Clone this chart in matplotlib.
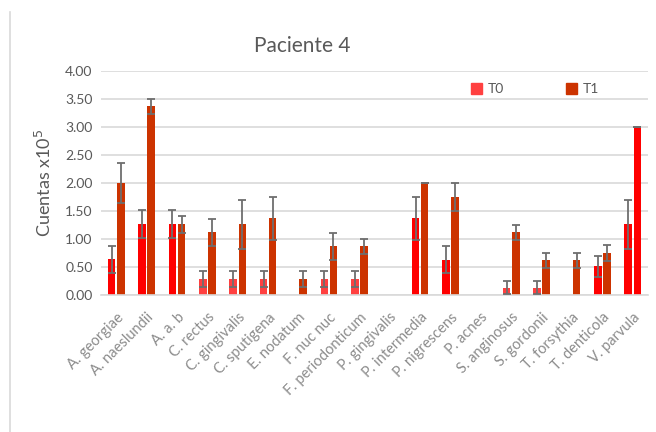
import matplotlib
matplotlib.use("Agg")
import matplotlib.pyplot as plt
import numpy as np

categories = ["A. georgiae", "A. naeslundii", "A. a. b", "C. rectus", "C. gingivalis",
              "C. sputigena", "E. nodatum", "F. nuc nuc", "F. periodonticum", "P. gingivalis",
              "P. intermedia", "P. nigrescens", "P. acnes", "S. anginosus", "S. gordonii",
              "T. forsythia", "T. denticola", "V. parvula"]
t0_values = [0.64, 1.26, 1.26, 0.28, 0.28, 0.28, 0.0, 0.28, 0.28, 0.0,
             1.37, 0.63, 0.0, 0.13, 0.13, 0.0, 0.51, 1.26]
t0_errors = [0.24, 0.25, 0.25, 0.14, 0.14, 0.14, 0.0, 0.14, 0.14, 0.0,
             0.38, 0.24, 0.0, 0.12, 0.12, 0.0, 0.19, 0.43]
t1_values = [2.0, 3.37, 1.26, 1.12, 1.26, 1.37, 0.28, 0.87, 0.87, 0.0,
             2.0, 1.75, 0.0, 1.12, 0.62, 0.62, 0.75, 3.0]
t1_errors = [0.35, 0.13, 0.15, 0.24, 0.43, 0.38, 0.14, 0.24, 0.13, 0.0,
             0.0, 0.25, 0.0, 0.13, 0.13, 0.13, 0.15, 0.0]
yticks = [0.0, 0.5, 1.0, 1.5, 2.0, 2.5, 3.0, 3.5, 4.0]

RED = "#FF0000"
LIGHT = "#FF4040"
DARK = "#CC3300"
t0_colors = [RED, RED, RED, LIGHT, LIGHT, LIGHT, LIGHT, LIGHT, LIGHT, LIGHT,
             RED, RED, LIGHT, LIGHT, LIGHT, LIGHT, RED, RED]
t1_colors = [DARK] * 17 + [RED]

plt.rcParams['font.family'] = ['Lato', 'DejaVu Sans']

fig = plt.figure(figsize=(6.56, 4.32), dpi=100)
ax = fig.add_axes([101/656, 1 - 295/432, (648-101)/656, (295-71)/432])

x = np.arange(len(categories))
w = 0.25
off = 0.15
ax.bar(x - off, t0_values, w, color=t0_colors, label="T0", zorder=2)
ax.bar(x + off, t1_values, w, color=t1_colors, label="T1", zorder=2)

errkw = dict(fmt="none", ecolor="#6E6E6E", elinewidth=1.3, capsize=3.2, capthick=1.3, zorder=3)
t0v = np.array(t0_values); t0e = np.array(t0_errors)
t1v = np.array(t1_values); t1e = np.array(t1_errors)
m0 = t0v > 0
m1 = t1v > 0
ax.errorbar(x[m0] - off, t0v[m0], yerr=t0e[m0], **errkw)
ax.errorbar(x[m1] + off, t1v[m1], yerr=t1e[m1], **errkw)

ax.set_xlim(-0.5, len(categories) - 0.5)
ax.set_ylim(0, 4.0)
ax.set_yticks(yticks)
ax.set_yticklabels([f"{v:.2f}" for v in yticks], fontsize=10, color="#595959")
ax.set_xticks(x)
ax.set_xticklabels(categories, rotation=45, ha="right", rotation_mode="anchor",
                   fontsize=10.5, color="#8C8C8C")
ax.tick_params(axis="y", length=0, pad=6)
ax.tick_params(axis="x", length=0, pad=11)
ax.grid(axis="y", color="#D9D9D9", linewidth=1.2, zorder=0)
ax.set_axisbelow(True)
for s in ["top", "right", "left"]:
    ax.spines[s].set_visible(False)
ax.spines["bottom"].set_color("#D9D9D9")
ax.spines["bottom"].set_linewidth(1.2)

ax.set_ylabel("Cuentas x10$^5$", fontsize=13, color="#595959", labelpad=8)

handles = [plt.Rectangle((0, 0), 1, 1, color=LIGHT), plt.Rectangle((0, 0), 1, 1, color=DARK)]
leg = ax.legend(handles, ["T0", "T1"], ncol=2, frameon=False, fontsize=10,
                loc="center", bbox_to_anchor=(535/656, 1 - 89/432),
                bbox_transform=fig.transFigure, handlelength=0.8, handleheight=0.8,
                columnspacing=4.5, handletextpad=0.4)
for t in leg.get_texts():
    t.set_color("#595959")

fig.text(302/656, 1 - 46/432, "Paciente 4", fontsize=15, color="#595959",
         ha="center", va="center")

fig.add_artist(plt.Line2D([10/656, 10/656], [0, 1 - 12/432], transform=fig.transFigure,
                          color="#D9D9D9", linewidth=1.2))

fig.savefig("out.png", dpi=100)
